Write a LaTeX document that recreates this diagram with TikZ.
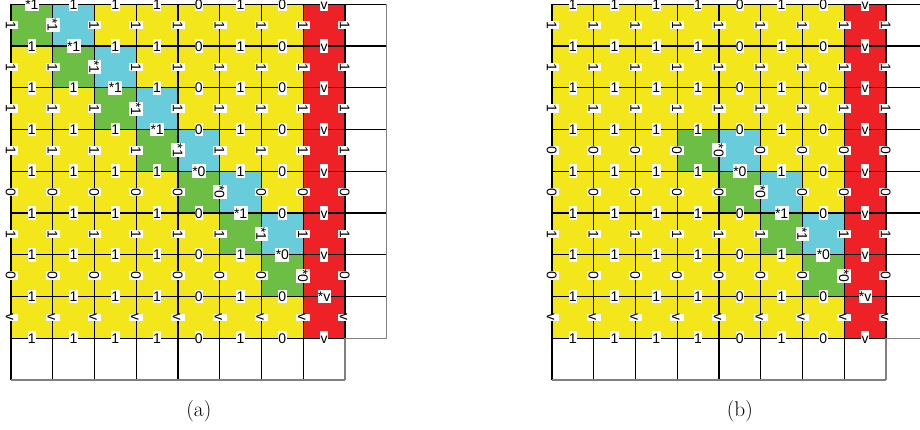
\documentclass[tikz,border=0pt]{standalone}
\usepackage{fontspec}
\newfontfamily\labfont{Liberation Sans}
\definecolor{cyel}{HTML}{F3E71B}
\definecolor{cgrn}{HTML}{6CBE45}
\definecolor{ccyn}{HTML}{68CCDB}
\definecolor{cred}{HTML}{EE2226}
\begin{document}
\begin{tikzpicture}[x=31.3125pt, y=-31.3125pt,
  gridline/.style={line width=0.9pt, black},
  edgeline/.style={line width=0.9pt, black!50},
  lab/.style={fill=white, inner xsep=0.3pt, inner ysep=1.3pt,
    font=\labfont\fontsize{10.5pt}{12pt}\selectfont, text height=7.6pt, text depth=0pt},
  vlab/.style={lab, rotate=-90},
  captext/.style={font=\fontsize{16pt}{19pt}\selectfont}]
\useasboundingbox (0,0) rectangle (22.0359,10.2994);
\clip (0,0) rectangle (22.0359,10.2994);

% ---------------- grid (a)
\begin{scope}[shift={(0.26347,0.10299)}]
  \fill[cyel] (0,0) rectangle (7,8);
  \fill[cred] (7,0) rectangle (8,8);
  \foreach \r in {0,...,6} \fill[cgrn] (\r,\r) rectangle ++(1,1);
  \foreach \r in {0,...,5} \fill[ccyn] (\r+1,\r) rectangle ++(1,1);
  \foreach \i in {0,...,7} \draw[gridline] (0,\i) -- (9,\i);
  \draw[gridline] (0,8) -- (8,8);
  \foreach \j in {0,...,7} \draw[gridline] (\j,0) -- (\j,9);
  \draw[gridline] (8,0) -- (8,8);
  \draw[edgeline] (8,8) -- (9,8);
  \draw[edgeline] (8,8) -- (8,9);
  \draw[edgeline] (0,9) -- (8,9);
  \draw[edgeline] (9,0) -- (9,8);
  \foreach \i in {0,...,8}
    \foreach \j/\t in {0/1,1/1,2/1,3/1,4/0,5/1,6/0,7/v}
      \node[lab] (ah\i\j) at (\j+0.5,\i) {\ifnum\i=\j\relax *\fi\t};
  \foreach \i/\t in {0/1,1/1,2/1,3/1,4/0,5/1,6/0,7/v}
    \foreach \j in {0,...,8} {
      \pgfmathtruncatemacro\nx{\i+1}
      \node[vlab] (av\i\j) at (\j,\i+0.5) {\ifnum\j=\nx\relax\ifnum\i<7 *\fi\fi\t};
    }
  \node[captext] (capa) at (4.5,9.741) {(a)};
\end{scope}

% ---------------- grid (b)
\begin{scope}[shift={(13.2216,0.10299)}]
  \fill[cyel] (0,0) rectangle (7,8);
  \fill[cred] (7,0) rectangle (8,8);
  \foreach \r in {3,...,6} \fill[cgrn] (\r,\r) rectangle ++(1,1);
  \foreach \r in {3,...,5} \fill[ccyn] (\r+1,\r) rectangle ++(1,1);
  \foreach \i in {0,...,7} \draw[gridline] (0,\i) -- (9,\i);
  \draw[gridline] (0,8) -- (8,8);
  \foreach \j in {0,...,7} \draw[gridline] (\j,0) -- (\j,9);
  \draw[gridline] (8,0) -- (8,8);
  \draw[edgeline] (8,8) -- (9,8);
  \draw[edgeline] (8,8) -- (8,9);
  \draw[edgeline] (0,9) -- (8,9);
  \draw[edgeline] (9,0) -- (9,8);
  \foreach \i in {0,...,8}
    \foreach \j/\t in {0/1,1/1,2/1,3/1,4/0,5/1,6/0,7/v}
      \node[lab] (bh\i\j) at (\j+0.5,\i) {\ifnum\i=\j\relax\ifnum\i>3 *\fi\fi\t};
  \foreach \i/\t in {0/1,1/1,2/1,3/0,4/0,5/1,6/0,7/v}
    \foreach \j in {0,...,8} {
      \pgfmathtruncatemacro\nx{\i+1}
      \node[vlab] (bv\i\j) at (\j,\i+0.5) {\ifnum\j=\nx\relax\ifnum\i>2 \ifnum\i<7 *\fi\fi\fi\t};
    }
  \node[captext] (capb) at (4.5,9.741) {(b)};
\end{scope}
\end{tikzpicture}
\end{document}
